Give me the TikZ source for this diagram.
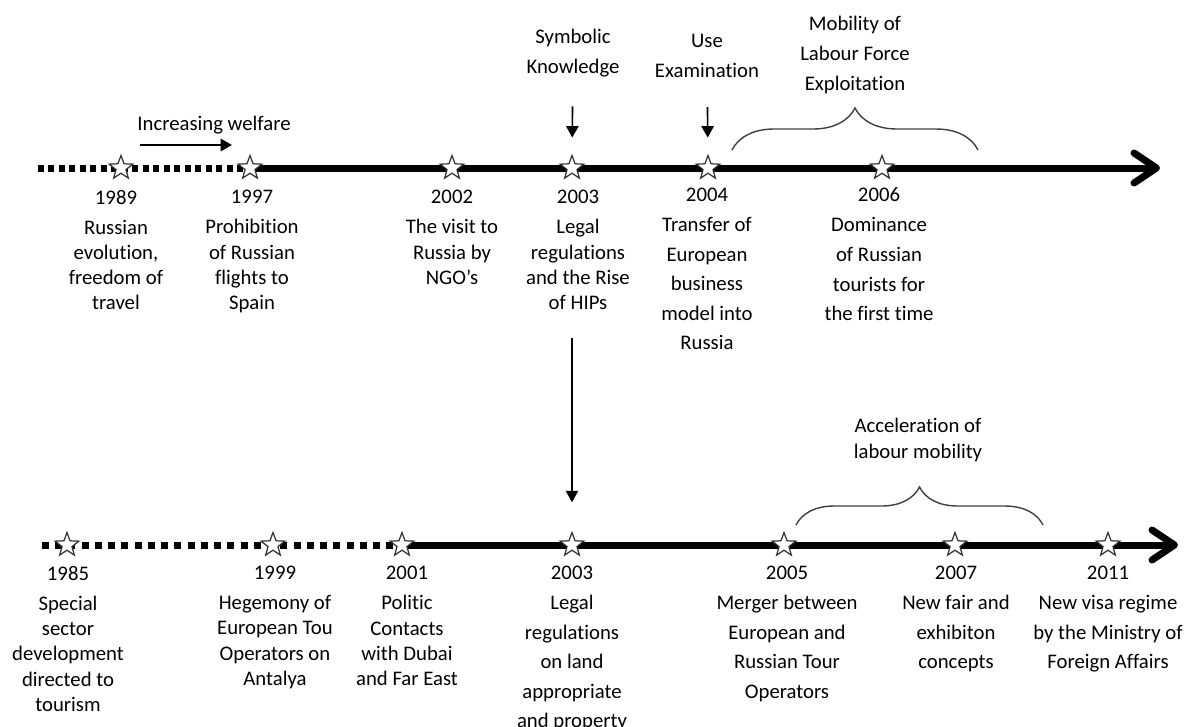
\documentclass[tikz,border=0pt]{standalone}
\usepackage{fontspec}
\setmainfont{Carlito}[Ligatures=NoCommon]
\usetikzlibrary{positioning,shapes.geometric,arrows.meta,decorations.pathreplacing,backgrounds}

\begin{document}
\begin{tikzpicture}[
    x=0.02cm, y=-0.02cm,
    event/.style={star, star points=5, star point ratio=2.4, minimum size=0.5cm, inner sep=0pt, draw=black!80, fill=white, line width=0.7pt},
    yearlbl/.style={inner sep=0pt, font=\fontsize{11.8}{14.4}\selectfont},
    desc/.style={inner sep=0pt, align=center, font=\fontsize{11.8}{14.4}\selectfont},
    tall/.style={font=\fontsize{11.8}{16.8}\selectfont},
    note/.style={inner sep=0pt, align=center, font=\fontsize{11.8}{17}\selectfont},
    pointer/.style={line width=0.9pt, -{Triangle[length=6.5pt, width=7pt]}},
    mainline/.style={line width=0.14cm, -{Straight Barb[length=0.45cm, width=0.6cm, round]}},
    dotline/.style={line width=0.14cm, dash pattern=on 0.12cm off 0.09cm},
    bracket/.style={draw=black!75, line width=0.8pt, decorate, decoration={brace, amplitude=#1}}
    ]
	\useasboundingbox (0,0) rectangle (1191,727);

	\node [event] (s1989) at (121,168) {};
	\node [event] (s1997) at (250,168) {};
	\node [event] (s2002) at (452,168) {};
	\node [event] (s2003) at (572,168) {};
	\node [event] (s2004) at (708,168) {};
	\node [event] (s2006) at (882,168) {};

	\node [yearlbl] (y1989) at (116,197) {1989};
	\node [yearlbl] (y1997) at (252,197) {1997};
	\node [yearlbl] (y2002) at (452,197) {2002};
	\node [yearlbl] (y2003) at (578,197) {2003};
	\node [yearlbl] (y2004) at (707,195) {2004};
	\node [yearlbl] (y2006) at (879,195) {2006};

	\node [desc, below=8.5pt of y1989] (d1989) {Russian\\evolution,\\freedom of\\travel};
	\node [desc, below=8.5pt of y1997] (d1997) {Prohibition\\of Russian\\flights to\\Spain};
	\node [desc, below=8.5pt of y2002] (d2002) {The visit to\\Russia by\\NGO’s};
	\node [desc, below=8.5pt of y2003] (d2003) {Legal\\regulations\\and the Rise\\of HIPs};
	\node [desc, tall, below=8.5pt of y2004] (d2004) {Transfer of\\European\\business\\model into\\Russia};
	\node [desc, tall, below=8.5pt of y2006] (d2006) {Dominance\\of Russian\\tourists for\\the first time};

	\node [note] (symb) at (573,53) {Symbolic\\Knowledge};
	\node [note] (use) at (707,56) {Use\\Examination};
	\node [note] (mobil) at (855,55) {Mobility of\\Labour Force\\Exploitation};
	\node [desc] (welf) at (214,125) {Increasing welfare};
	\coordinate (welfA) at (140,145);
	\coordinate (welfB) at (232,145);
	\coordinate (brA) at (732,150);
	\coordinate (brB) at (978,150);
	\coordinate (topA) at (38,168);
	\coordinate (topB) at (1160,168);

	\node [event] (s1985) at (67,545) {};
	\node [event] (s1999) at (273,545) {};
	\node [event] (s2001) at (402,545) {};
	\node [event] (b2003) at (572,545) {};
	\node [event] (s2005) at (784,545) {};
	\node [event] (s2007) at (955,545) {};
	\node [event] (s2011) at (1108,545) {};

	\node [yearlbl] (y1985) at (68,573) {1985};
	\node [yearlbl] (y1999) at (275,573) {1999};
	\node [yearlbl] (y2001) at (407,573) {2001};
	\node [yearlbl] (z2003) at (572,573) {2003};
	\node [yearlbl] (y2005) at (787,573) {2005};
	\node [yearlbl] (y2007) at (956,573) {2007};
	\node [yearlbl] (y2011) at (1108,573) {2011};

	\node [desc, below=8.5pt of y1985] (d1985) {Special\\sector\\development\\directed to\\tourism};
	\node [desc, below=8.5pt of y1999] (d1999) {Hegemony of\\European Tou\\Operators on\\Antalya};
	\node [desc, below=8.5pt of y2001] (d2001) {Politic\\Contacts\\with Dubai\\and Far East};
	\node [desc, tall, below=8.5pt of z2003] (e2003) {Legal\\regulations\\on land\\appropriate\\and property};
	\node [desc, tall, below=8.5pt of y2005] (d2005) {Merger between\\European and\\Russian Tour\\Operators};
	\node [desc, tall, below=8.5pt of y2007] (d2007) {New fair and\\exhibiton\\concepts};
	\node [desc, tall, below=8.5pt of y2011] (d2011) {New visa regime\\by the Ministry of\\Foreign Affairs};

	\node [note, font=\fontsize{11.8}{15}\selectfont] (accel) at (918,440) {Acceleration of\\labour mobility};
	\coordinate (brC) at (796,525);
	\coordinate (brD) at (1043,525);
	\coordinate (botA) at (42,545);
	\coordinate (botB) at (1178,545);

	\begin{scope}[on background layer]
		\draw [dotline] (topA) -- (s1997.center);
		\draw [mainline] (s1997.center) -- (topB);
		\draw [dotline, dash pattern=on 0.14cm off 0.125cm] (botA) -- (s2001.center);
		\draw [mainline] (s2001.center) -- (botB);
	\end{scope}

	\draw [pointer, line width=1.2pt] (welfA) -- (welfB);
	\draw [pointer, shorten <=0.58cm, shorten >=0.33cm] (symb) -- (s2003);
	\draw [pointer, shorten <=0.58cm, shorten >=0.33cm] (use) -- (s2004);
	\draw [pointer, shorten <=0.56cm, shorten >=0.57cm] (d2003.south -| s2003) -- (b2003);
	\draw [bracket=0.84cm] (brA) -- (brB);
	\draw [bracket=0.76cm] (brC) -- (brD);
\end{tikzpicture}
\end{document}
